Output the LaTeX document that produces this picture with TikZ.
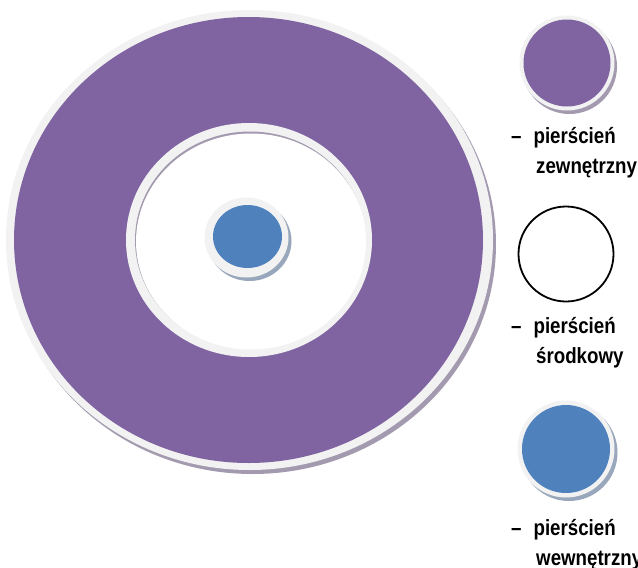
\documentclass[tikz,border=0pt]{standalone}
\usepackage{fontspec}
\newfontfamily\legfont[FakeStretch=0.85]{Liberation Sans}
\definecolor{ringpurple}{HTML}{8064A2}
\definecolor{ringblue}{HTML}{4F81BD}
\definecolor{rimgray}{HTML}{F2F2F2}
\definecolor{shpurple}{HTML}{A39AAF}
\definecolor{shblue}{HTML}{98A7BB}
\tikzset{
  legtext/.style={anchor=base west, inner sep=0pt, font=\legfont\bfseries\fontsize{22}{26}\selectfont, text=black},
}
\begin{document}
\begin{tikzpicture}[x=1pt,y=-1pt]
\useasboundingbox (0,0) rectangle (638,568);
% outer ring
\fill[shpurple] (252.5,244) ellipse [x radius=243.5, y radius=230];
\fill[rimgray] (249.5,240) ellipse [x radius=243.5, y radius=230];
\fill[ringpurple] (248.5,240) ellipse [x radius=234.5, y radius=223];
% middle hole
\fill[rimgray] (249,240) ellipse [x radius=123, y radius=117];
\fill[shpurple] (250,240) ellipse [x radius=115, y radius=108.5];
\fill[white] (251,241.5) ellipse [x radius=115, y radius=108];
% centre
\fill[shblue] (249.5,241) ellipse [x radius=42, y radius=40];
\fill[rimgray] (246.5,237.5) ellipse [x radius=42, y radius=40];
\fill[ringblue] (247.5,236.5) ellipse [x radius=34.5, y radius=31.5];
% legend
\fill[shpurple] (569.5,66.5) circle [radius=47.5];
\fill[rimgray] (567,63) circle [radius=47.5];
\fill[ringpurple] (567,63) circle [radius=43.5];
\node[legtext] (l1a) at (511,143) {–\hspace{12pt}pierścień};
\node[legtext] (l1b) at (536,173) {zewnętrzny};
\draw[black, line width=1.8pt] (566,254) circle [radius=47.5];
\node[legtext] (l2a) at (511,333) {–\hspace{12pt}pierścień};
\node[legtext] (l2b) at (536,363) {środkowy};
\fill[shblue] (569,452.5) circle [radius=48.5];
\fill[rimgray] (566,449) circle [radius=48.5];
\fill[ringblue] (566,449) circle [radius=44];
\node[legtext] (l3a) at (511,535) {–\hspace{12pt}pierścień};
\node[legtext] (l3b) at (536,565) {wewnętrzny};
\end{tikzpicture}
\end{document}
